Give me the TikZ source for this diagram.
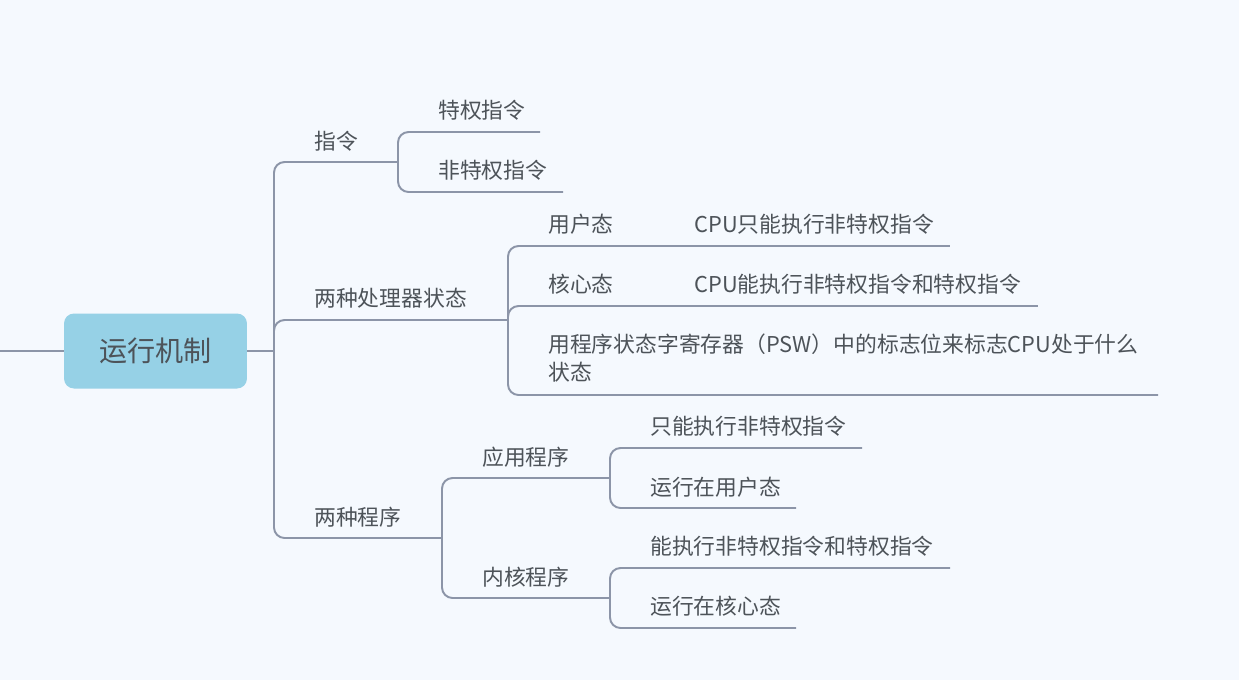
\documentclass[tikz,border=0pt]{standalone}
\usepackage{fontspec}
\newfontfamily\cjk{Noto Sans CJK SC}
\usepackage{xcolor}
\definecolor{bgblue}{RGB}{245, 249, 254}
\definecolor{rootblue}{RGB}{150, 209, 230}
\definecolor{linegray}{RGB}{140, 149, 168}
\definecolor{textgray}{RGB}{77, 83, 89}
\usepackage{tikz}
\usetikzlibrary{positioning, calc}

\tikzset{
    topic/.style={font=\cjk\fontsize{12.4}{15.4}\selectfont, text=textgray, anchor=west, inner sep=0pt},
    branch/.style={draw=linegray, line width=1.1pt, rounded corners=6pt},
}

\begin{document}
\begin{tikzpicture}[x=0.02cm, y=-0.02cm]
    \fill[bgblue] (0,0) rectangle (1239,680);
    \useasboundingbox (0,0) rectangle (1239,680);

    % root
    \node[fill=rootblue, rounded corners=0.2cm, minimum width=3.66cm, minimum height=1.5cm,
          font=\cjk\fontsize{16}{19}\selectfont, text=textgray] (root) at (155.5,351) {运行机制};
    \coordinate (in) at (0,351);
    \coordinate (j0) at (274,351);
    \draw[branch] (in) -- (root.west);
    \draw[branch] (root.east) -- (j0);

    % first level
    \node[topic] (zl) at (314,141) {指令};
    \node[topic] (cl) at (314,298) {两种处理器状态};
    \node[topic] (cx) at (314,517) {两种程序};
    \coordinate (zl-e) at (398,162);
    \coordinate (cl-e) at (508,320);
    \coordinate (cx-e) at (442,538);
    \draw[branch] (j0) |- (zl-e);
    \draw[branch] (j0) |- (cl-e);
    \draw[branch] (j0) |- (cx-e);

    % 指令
    \node[topic] (tq) at (438,110) {特权指令};
    \node[topic] (ftq) at (438,170) {非特权指令};
    \coordinate (tq-e) at (540,132);
    \coordinate (ftq-e) at (563,192);
    \draw[branch] (zl-e) |- (tq-e);
    \draw[branch] (zl-e) |- (ftq-e);

    % 两种处理器状态
    \node[topic] (yh) at (548,224) {用户态};
    \node[topic] (yh1) at (694,224) {CPU只能执行非特权指令};
    \node[topic] (hx) at (548,284) {核心态};
    \node[topic] (hx1) at (694,284) {CPU能执行非特权指令和特权指令};
    \node[topic, align=left] (psw) at (548,358)
        {用程序状态字寄存器（PSW）中的标志位来标志CPU处于什么\\状态};
    \coordinate (yh-e) at (680,246);
    \coordinate (yh1-e) at (950,246);
    \coordinate (hx-e) at (680,306);
    \coordinate (hx1-e) at (1038,306);
    \coordinate (psw-e) at (1158,395);
    \draw[branch] (cl-e) |- (yh-e);
    \draw[branch] (yh-e) -- (yh1-e);
    \draw[branch] (cl-e) |- (hx-e);
    \draw[branch] (hx-e) -- (hx1-e);
    \draw[branch] (cl-e) |- (psw-e);

    % 两种程序
    \node[topic] (yy) at (482,457) {应用程序};
    \node[topic] (nh) at (482,577) {内核程序};
    \coordinate (yy-e) at (610,478);
    \coordinate (nh-e) at (610,598);
    \draw[branch] (cx-e) |- (yy-e);
    \draw[branch] (cx-e) |- (nh-e);

    \node[topic] (yy1) at (650,426) {只能执行非特权指令};
    \node[topic] (yy2) at (650,487) {运行在用户态};
    \node[topic] (nh1) at (650,546) {能执行非特权指令和特权指令};
    \node[topic] (nh2) at (650,606) {运行在核心态};
    \coordinate (yy1-e) at (862,448);
    \coordinate (yy2-e) at (796,508);
    \coordinate (nh1-e) at (950,568);
    \coordinate (nh2-e) at (796,628);
    \draw[branch] (yy-e) |- (yy1-e);
    \draw[branch] (yy-e) |- (yy2-e);
    \draw[branch] (nh-e) |- (nh1-e);
    \draw[branch] (nh-e) |- (nh2-e);
\end{tikzpicture}
\end{document}
